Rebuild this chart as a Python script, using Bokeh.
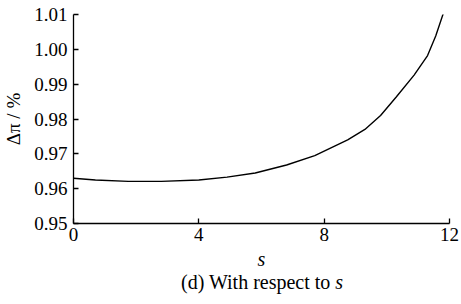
from bokeh.plotting import figure
from bokeh.models import Range1d, FixedTicker, PrintfTickFormatter, Div
from bokeh.layouts import column
from bokeh.embed import file_html
from bokeh.resources import INLINE

# data
s_vals = [0, 0.7, 1.75, 2.8, 4.0, 4.9, 5.8, 6.8, 7.7, 8.75, 9.3, 9.8, 10.3, 10.87, 11.3, 11.56, 11.82]
dpi_vals = [0.9630, 0.9625, 0.9621, 0.9621, 0.9625, 0.9633, 0.9645, 0.9668, 0.9695, 0.9740,
            0.9770, 0.9810, 0.9863, 0.9926, 0.9982, 1.0038, 1.0108]
x_ticks = [0, 4, 8, 12]
y_ticks = [0.95, 0.96, 0.97, 0.98, 0.99, 1.00, 1.01]
caption = '(d) With respect to <i>s</i>'

FONT = "'Liberation Serif', 'Times New Roman', serif"

p = figure(width=461, height=272, output_backend="svg", toolbar_location=None,
           x_range=Range1d(0, 12), y_range=Range1d(0.95, 1.01),
           min_border_left=71, min_border_right=12, min_border_top=14, min_border_bottom=43)
p.outline_line_color = None
p.xgrid.visible = False
p.ygrid.visible = False

p.line(s_vals, dpi_vals, line_color="black", line_width=1.4)

for ax in (p.xaxis[0], p.yaxis[0]):
    ax.major_tick_in = 5
    ax.major_tick_out = 0
    ax.minor_tick_line_color = None
    ax.axis_line_color = "black"
    ax.axis_line_width = 1.3
    ax.major_tick_line_width = 1.3
    ax.major_label_text_font = FONT
    ax.major_label_text_font_size = "19px"
    ax.major_label_text_color = "black"
    ax.axis_label_text_font = FONT
    ax.axis_label_text_color = "black"

p.xaxis.ticker = FixedTicker(ticks=x_ticks)
p.yaxis.ticker = FixedTicker(ticks=y_ticks)
p.yaxis.formatter = PrintfTickFormatter(format="%.2f")
p.xaxis.major_label_standoff = 4
p.yaxis.major_label_standoff = 6

p.xaxis.axis_label = "s"
p.xaxis.axis_label_text_font_style = "italic"
p.xaxis.axis_label_text_font_size = "20px"
p.xaxis.axis_label_standoff = 4

p.yaxis.axis_label = "Δπ / %"
p.yaxis.axis_label_text_font_style = "normal"
p.yaxis.axis_label_text_font_size = "19px"
p.yaxis.axis_label_standoff = 7

cap = Div(text=caption, width=461, height=32, margin=0,
          styles={"font-family": FONT, "font-size": "20px", "line-height": "20px",
                  "color": "black", "padding-left": "181px", "white-space": "nowrap"})

layout = column(p, cap, spacing=0)
open("out.html", "w").write(file_html(layout, INLINE))
